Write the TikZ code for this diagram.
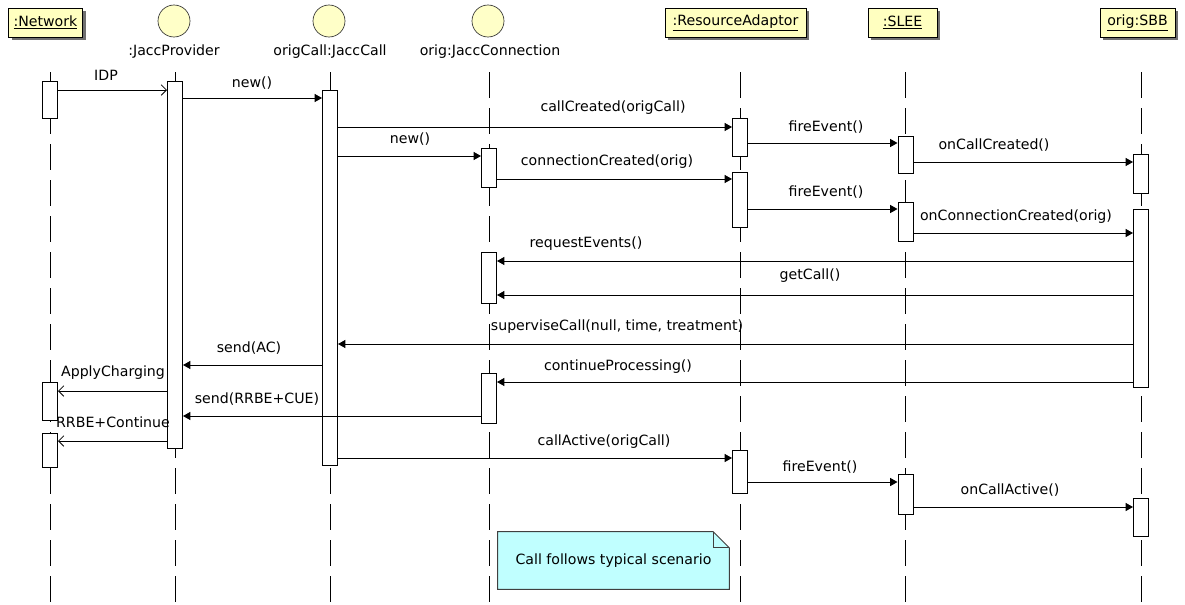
\documentclass[tikz,border=0pt]{standalone}
\usepackage{fontspec}
\setmainfont{DejaVu Sans}
\usetikzlibrary{arrows.meta,shadows}

\definecolor{hdrfill}{HTML}{FFFFC0}
\definecolor{objfill}{HTML}{FFFFC8}
\definecolor{notefill}{HTML}{C0FFFF}
\definecolor{shadowgray}{HTML}{707070}
\definecolor{notedraw}{HTML}{404040}

% activation bar: name, x, top y, bottom y (pixel units)
\newcommand\actbar[4]{\node[actbox, anchor=north, minimum height={(#4-#3)*0.75pt}] (#1) at (#2,#3) {};}

\tikzset{
  hdr/.style={draw, fill=hdrfill, line width=0.75pt, minimum height=21.75pt, inner xsep=0pt,
    drop shadow={shadow xshift=2.4pt, shadow yshift=-2.4pt, fill=shadowgray, opacity=1}},
  obj/.style={circle, draw=black!80, fill=objfill, line width=0.5pt, minimum size=24pt, inner sep=0pt},
  objlabel/.style={inner sep=0pt},
  lifeline/.style={line width=0.75pt, dash pattern=on 19.5pt off 7.5pt},
  actbox/.style={draw, fill=white, line width=0.75pt, minimum width=11.25pt, inner sep=0pt},
  call/.style={line width=0.75pt, -{Triangle[length=5.5pt,width=6pt]}},
  async/.style={line width=0.75pt, -{Straight Barb[length=4pt,width=8pt,line width=0.6pt]}},
  lbl/.style={inner sep=0pt},
}

\begin{document}
\begin{tikzpicture}[x=0.75pt,y=-0.75pt, font=\fontsize{10.6pt}{12pt}\selectfont]
\useasboundingbox (0,0) rectangle (1185,604);

% ---- participant heads ----
\node[hdr, minimum width=55.5pt] (net) at (45.5,22.5) {\underline{:Network}};
\node[obj] (jp) at (174,21) {};
\node[objlabel] (jpl) at (174,52) {:JaccProvider};
\node[obj] (oc) at (329,21) {};
\node[objlabel] (ocl) at (330,52) {origCall:JaccCall};
\node[obj] (jc) at (488,21) {};
\node[objlabel] (jcl) at (490,52) {orig:JaccConnection};
\node[hdr, minimum width=105.75pt] (ra) at (735.5,22.5) {\underline{:ResourceAdaptor}};
\node[hdr, minimum width=51.75pt] (slee) at (902.5,22.5) {\underline{:SLEE}};
\node[hdr, minimum width=56.25pt] (sbb) at (1137.5,22.5) {\underline{orig:SBB}};

% ---- lifelines ----
\foreach \n/\x in {Net/50, JP/175, OC/330, JC/489, RA/740, SL/905.5, SB/1141} {
  \coordinate (\n top) at (\x,72);
  \coordinate (\n bot) at (\x,604);
  \draw[lifeline] (\n top) -- (\n bot);
}

% ---- activation bars ----
\actbar{net1}{50}{81}{118}
\actbar{net2}{50}{382}{420}
\actbar{net3}{50}{433}{467}
\actbar{jp1}{175}{81}{448}
\actbar{oc1}{330}{90}{465}
\actbar{jc1}{489}{148}{187}
\actbar{jc2}{489}{252}{303}
\actbar{jc3}{489}{373}{423}
\actbar{ra1}{740}{118}{156}
\actbar{ra2}{740}{172}{227}
\actbar{ra3}{740}{450}{493}
\actbar{sl1}{905.5}{136}{173}
\actbar{sl2}{905.5}{202}{241}
\actbar{sl3}{905.5}{474}{514}
\actbar{sb1}{1141}{154}{193}
\actbar{sb2}{1141}{209}{387}
\actbar{sb3}{1141}{498}{536}

% ---- messages ----
\draw[async] (net1.east |- 0,90) -- (jp1.west |- 0,90);
\node[lbl] (m1) at (106,75) {IDP};
\draw[call] (jp1.east |- 0,98) -- (oc1.west |- 0,98);
\node[lbl] (m2) at (252,83) {new()};
\draw[call] (oc1.east |- 0,127) -- (ra1.west |- 0,127);
\node[lbl] (m3) at (613,108) {callCreated(origCall)};
\draw[call] (oc1.east |- 0,156) -- (jc1.west |- 0,156);
\node[lbl] (m4) at (410,139) {new()};
\draw[call] (jc1.east |- 0,179) -- (ra2.west |- 0,179);
\node[lbl] (m5) at (607,162) {connectionCreated(orig)};
\draw[call] (ra1.east |- 0,143) -- (sl1.west |- 0,143);
\node[lbl] (m6) at (826,127) {fireEvent()};
\draw[call] (sl1.east |- 0,162) -- (sb1.west |- 0,162);
\node[lbl] (m7) at (994,145) {onCallCreated()};
\draw[call] (ra2.east |- 0,209) -- (sl2.west |- 0,209);
\node[lbl] (m8) at (826,192) {fireEvent()};
\draw[call] (sl2.east |- 0,233) -- (sb2.west |- 0,233);
\node[lbl] (m9) at (1016,217) {onConnectionCreated(orig)};
\draw[call] (sb2.west |- 0,261) -- (jc2.east |- 0,261);
\node[lbl] (m10) at (586,244) {requestEvents()};
\draw[call] (sb2.west |- 0,295) -- (jc2.east |- 0,295);
\node[lbl] (m11) at (810,276) {getCall()};
\draw[call] (sb2.west |- 0,344) -- (oc1.east |- 0,344);
\node[lbl] (m12) at (617,327) {superviseCall(null, time, treatment)};
\draw[call] (oc1.west |- 0,365) -- (jp1.east |- 0,365);
\node[lbl] (m13) at (249,348) {send(AC)};
\draw[call] (sb2.west |- 0,382) -- (jc3.east |- 0,382);
\node[lbl] (m14) at (618,367) {continueProcessing()};
\draw[async] (jp1.west |- 0,391) -- (net2.east |- 0,391);
\node[lbl] (m15) at (113,373) {ApplyCharging};
\draw[call] (jc3.west |- 0,416) -- (jp1.east |- 0,416);
\node[lbl] (m16) at (257,399) {send(RRBE+CUE)};
\draw[async] (jp1.west |- 0,441) -- (net3.east |- 0,441);
\node[lbl] (m17) at (113,422) {RRBE+Continue};
\draw[call] (oc1.east |- 0,458) -- (ra3.west |- 0,458);
\node[lbl] (m18) at (604,442) {callActive(origCall)};
\draw[call] (ra3.east |- 0,482) -- (sl3.west |- 0,482);
\node[lbl] (m19) at (820,467) {fireEvent()};
\draw[call] (sl3.east |- 0,507) -- (sb3.west |- 0,507);
\node[lbl] (m20) at (1010,490) {onCallActive()};

% ---- note ----
\node[inner sep=0pt, minimum width=173.25pt, minimum height=42.75pt] (notebox) at (613.5,560.5) {};
\draw[notedraw, fill=notefill, line width=0.75pt]
  (notebox.north west) -- ([xshift=-12pt]notebox.north east)
  -- ([yshift=-12pt]notebox.north east) -- (notebox.south east)
  -- (notebox.south west) -- cycle;
\draw[notedraw, line width=0.6pt]
  ([xshift=-12pt]notebox.north east) |- ([yshift=-12pt]notebox.north east);
\node[lbl] (notetext) at (notebox.center) {Call follows typical scenario};
\end{tikzpicture}
\end{document}
